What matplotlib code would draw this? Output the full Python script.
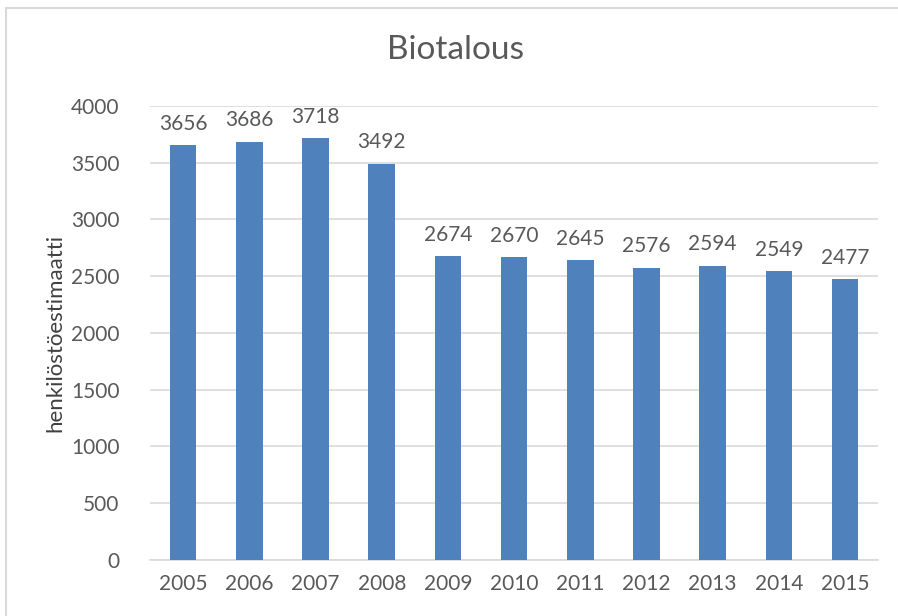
import matplotlib.pyplot as plt
from matplotlib.patches import Rectangle

# data
years = ['2005', '2006', '2007', '2008', '2009', '2010', '2011', '2012', '2013', '2014', '2015']
values = [3656, 3686, 3718, 3492, 2674, 2670, 2645, 2576, 2594, 2549, 2477]
y_ticks = [0, 500, 1000, 1500, 2000, 2500, 3000, 3500, 4000]

plt.rcParams['font.family'] = ['Lato', 'DejaVu Sans']
text_col = '#595959'

fig = plt.figure(figsize=(8.98, 6.16), dpi=100)
ax = fig.add_axes([0.167, 0.091, 0.811, 0.737])

# chart frame (only top and left visible in the screenshot)
fig.patches.append(Rectangle((5.5 / 898, -0.1), 1.2, 1.1 - 7.5 / 616,
                             transform=fig.transFigure, fill=False,
                             edgecolor='#d9d9d9', lw=1.5))

bars = ax.bar(years, values, width=0.4, color='#4f81bd', zorder=3)
for b, v in zip(bars, values):
    ax.annotate(str(v), (b.get_x() + b.get_width() / 2, v),
                xytext=(0, 8), textcoords='offset points',
                ha='center', va='bottom', fontsize=15, color=text_col)

ax.set_ylim(0, 4000)
ax.set_xlim(-0.5, len(years) - 0.5)
ax.set_yticks(y_ticks)
ax.grid(axis='y', color='#d9d9d9', lw=1.2, zorder=0)
for s in ['top', 'right', 'left']:
    ax.spines[s].set_visible(False)
ax.spines['bottom'].set_color('#d9d9d9')
ax.spines['bottom'].set_linewidth(1.2)
ax.tick_params(length=0, labelsize=15, labelcolor=text_col)
ax.tick_params(axis='y', pad=22)
ax.tick_params(axis='x', pad=10)

ax.set_ylabel('henkilöstöestimaatti', fontsize=16, color='#404040', labelpad=4)
fig.text(456 / 898, 1 - 50 / 616, 'Biotalous', fontsize=24, color=text_col,
         ha='center', va='center')

fig.savefig('out.png', dpi=100)
